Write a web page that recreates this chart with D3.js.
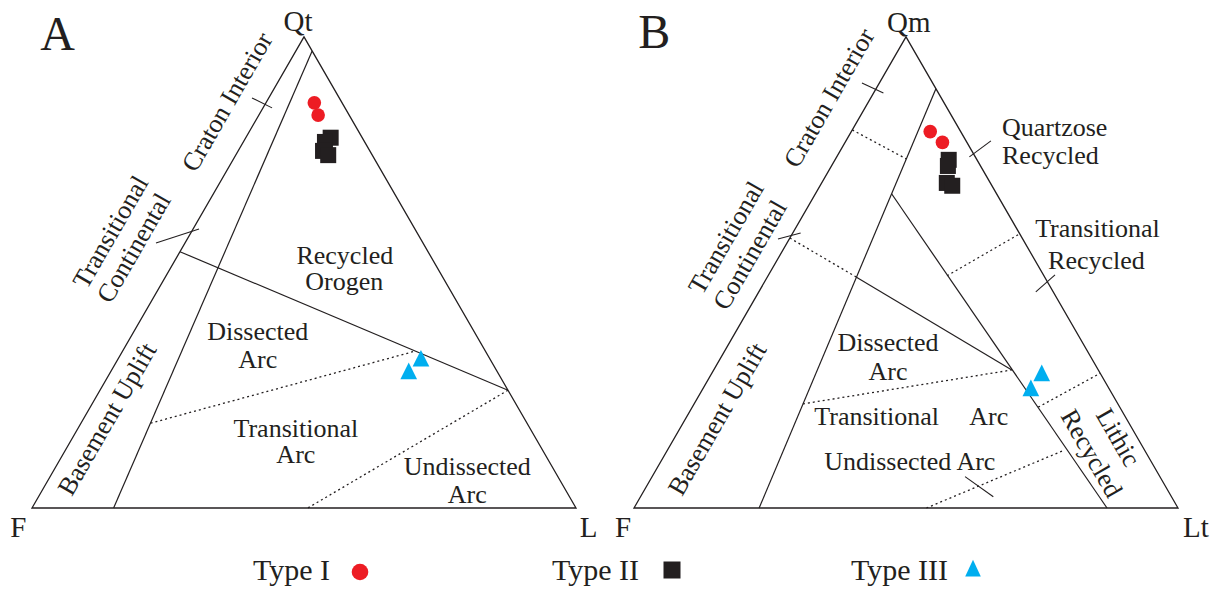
<!DOCTYPE html>
<html>
<head>
<meta charset="utf-8">
<script src="https://cdn.jsdelivr.net/npm/d3@7"></script>
<style>
  body { margin: 0; background: #fff; }
  svg { display: block; }
  text { font-family: "Liberation Serif", "Times New Roman", serif; fill: #231f20; }
</style>
</head>
<body>
<svg id="chart" width="1219" height="591"></svg>
<script>
// Sandstone compositions, percent [Q, F, L]
const typeI_QFL   = [[86.0, 5.1, 8.9], [83.4, 5.7, 10.9]];
const typeII_QFL  = [[78.6, 5.8, 15.6], [77.7, 7.3, 15.0], [75.8, 8.6, 15.6], [74.9, 8.1, 17.0]];
const typeIII_QFL = [[31.2, 12.9, 55.9], [28.5, 16.5, 55.0]];

// Percent [Qm, F, Lt]
const typeI_QmFLt   = [[79.9, 5.6, 14.5], [77.6, 4.5, 17.9]];
const typeII_QmFLt  = [[73.9, 5.2, 20.9], [72.6, 6.0, 21.4], [69.0, 8.0, 23.0], [68.4, 7.3, 24.3]];
const typeIII_QmFLt = [[28.1, 11.0, 60.9], [24.9, 14.6, 60.5]];

// Provenance field boundaries (Dickinson), endpoints as [Q, F, L]
const qflSolid = [
  [[97, 0, 3], [0, 85, 15]],
  [[54.4, 45.6, 0], [25, 0, 75]]
];
const qflDotted = [
  [[18, 69.2, 12.8], [33.3, 12.9, 53.8]],
  [[25, 0, 75], [0, 49.3, 50.7]]
];
const qflTicks = [
  [[87.05, 16.03, -3.08], [84.93, 13.41, 1.66]],
  [[56.26, 49.08, -5.34], [59.24, 39.68, 1.08]]
];

const qmfltSolid = [
  [[89, 0, 11], [0, 77, 23]],
  [[66.7, 19.3, 14.0], [0, 13.05, 86.95]],
  [[49.0, 34.6, 16.4], [29.3, 15.9, 54.8]]
];
const qmfltDotted = [
  [[80.25, 19.75, 0], [74.1, 12.9, 13.0]],
  [[57.3, 42.7, 0], [49.0, 34.6, 16.4]],
  [[49.3, 17.8, 32.9], [58.2, 0, 41.8]],
  [[21.4, 15.0, 63.6], [28.6, 0, 71.4]],
  [[22.1, 57.9, 20.0], [29.3, 15.9, 54.8]],
  [[0, 46.25, 53.75], [12.3, 14.7, 73.0]]
];
const qmfltTicks = [
  [[90.23, 12.98, -3.21], [88.11, 10.10, 1.79]],
  [[57.11, 44.98, -2.09], [58.39, 40.17, 1.44]],
  [[74.52, 1.09, 24.39], [77.92, -4.57, 26.65]],
  [[45.86, 3.21, 50.93], [49.47, -2.13, 52.66]],
  [[6.65, 35.82, 57.53], [2.4, 32.75, 64.85]]
];

const corners = [[0, 100, 0], [0, 0, 100], [100, 0, 0]];

const legendNames = ["Type I", "Type II", "Type III"];

// Field and axis labels, placed in the triangle's unit frame (u across, v up)
const qflLabels = [
  { t: "A", u: 0.047, v: 0.972, size: 48 },
  { t: "Qt", u: 0.489, v: 1.013, size: 29 },
  { t: "F", u: -0.025, v: -0.062, size: 29 },
  { t: "L", u: 1.023, v: -0.062, size: 29 },
  { t: "Recycled", u: 0.575, v: 0.518, size: 26 },
  { t: "Orogen", u: 0.574, v: 0.463, size: 26 },
  { t: "Dissected", u: 0.415, v: 0.357, size: 26 },
  { t: "Arc", u: 0.415, v: 0.297, size: 26 },
  { t: "Transitional", u: 0.485, v: 0.151, size: 26 },
  { t: "Arc", u: 0.485, v: 0.096, size: 26 },
  { t: "Undissected", u: 0.800, v: 0.070, size: 26 },
  { t: "Arc", u: 0.800, v: 0.011, size: 26 },
  { t: "Craton Interior", u: 0.3585, v: 0.862, size: 26, rot: -60 },
  { t: "Transitional", u: 0.1443, v: 0.586, size: 26, rot: -60 },
  { t: "Continental", u: 0.187, v: 0.552, size: 26, rot: -60 },
  { t: "Basement Uplift", u: 0.138, v: 0.189, size: 26, rot: -60 }
];
const qmfltLabels = [
  { t: "B", u: 0.037, v: 0.977, size: 48 },
  { t: "Qm", u: 0.505, v: 1.011, size: 29 },
  { t: "F", u: -0.020, v: -0.062, size: 29 },
  { t: "Lt", u: 1.033, v: -0.062, size: 29 },
  { t: "Quartzose", u: 0.6765, v: 0.790, size: 26, anchor: "start" },
  { t: "Recycled", u: 0.6765, v: 0.730, size: 26, anchor: "start" },
  { t: "Transitional", u: 0.852, v: 0.575, size: 26 },
  { t: "Recycled", u: 0.850, v: 0.507, size: 26 },
  { t: "Dissected", u: 0.467, v: 0.333, size: 26 },
  { t: "Arc", u: 0.467, v: 0.272, size: 26 },
  { t: "Transitional", u: 0.446, v: 0.176, size: 26 },
  { t: "Arc", u: 0.652, v: 0.176, size: 26 },
  { t: "Undissected Arc", u: 0.507, v: 0.081, size: 26 },
  { t: "Craton Interior", u: 0.3585, v: 0.8705, size: 26, rot: -60 },
  { t: "Transitional", u: 0.169, v: 0.574, size: 26, rot: -60 },
  { t: "Continental", u: 0.213, v: 0.537, size: 26, rot: -60 },
  { t: "Basement Uplift", u: 0.153, v: 0.189, size: 26, rot: -60 },
  { t: "Lithic", u: 0.890, v: 0.150, size: 26, rot: 60 },
  { t: "Recycled", u: 0.841, v: 0.116, size: 26, rot: 60 }
];

const INK = "#231f20", RED = "#ed1c24", BLACK = "#231f20", CYAN = "#00aeef";
const SIDE = 544, HEIGHT = SIDE * Math.sqrt(3) / 2, BASE_Y = 508;

const svg = d3.select("#chart");

function trianglePath(w, h) {
  return `M0,${-2 * h / 3}L${w / 2},${h / 3}L${-w / 2},${h / 3}Z`;
}

function drawPanel(x0, solid, dotted, ticks, labels, sI, sII, sIII) {
  const g = svg.append("g");
  const sx = d3.scaleLinear().domain([0, 1]).range([x0, x0 + SIDE]);
  const sy = d3.scaleLinear().domain([0, 1]).range([BASE_Y, BASE_Y - HEIGHT]);
  const px = d => sx((d[2] + d[0] / 2) / 100);
  const py = d => sy(d[0] / 100);
  const line = d3.line().x(px).y(py);

  // outer triangle
  g.append("path")
    .attr("d", line(corners) + "Z")
    .attr("fill", "none").attr("stroke", INK).attr("stroke-width", 1.3)
    .attr("stroke-linejoin", "miter");

  // field boundaries
  g.selectAll(null).data(solid).join("path")
    .attr("d", line).attr("fill", "none")
    .attr("stroke", INK).attr("stroke-width", 1.2);

  g.selectAll(null).data(dotted).join("path")
    .attr("d", line).attr("fill", "none")
    .attr("stroke", INK).attr("stroke-width", 1.3)
    .attr("stroke-dasharray", "2,3");

  g.selectAll(null).data(ticks).join("path")
    .attr("d", line).attr("fill", "none")
    .attr("stroke", INK).attr("stroke-width", 1.1);

  // labels
  g.selectAll(null).data(labels).join("text")
    .attr("transform", d => d.rot
      ? `translate(${sx(d.u)},${sy(d.v)}) rotate(${d.rot})`
      : `translate(${sx(d.u)},${sy(d.v)})`)
    .attr("dy", d => d.rot ? "0.33em" : 0)
    .attr("text-anchor", d => d.anchor || "middle")
    .attr("font-size", d => d.size)
    .text(d => d.t);

  // samples
  g.selectAll(null).data(sII).join("rect")
    .attr("x", d => px(d) - 8).attr("y", d => py(d) - 8)
    .attr("width", 16).attr("height", 16)
    .attr("fill", BLACK);

  g.selectAll(null).data(sI).join("circle")
    .attr("cx", px).attr("cy", py).attr("r", 6.8)
    .attr("fill", RED);

  g.selectAll(null).data(sIII).join("path")
    .attr("transform", d => `translate(${px(d)},${py(d)})`)
    .attr("d", trianglePath(16.7, 16.7))
    .attr("fill", CYAN);
}

drawPanel(32, qflSolid, qflDotted, qflTicks, qflLabels, typeI_QFL, typeII_QFL, typeIII_QFL);
drawPanel(634, qmfltSolid, qmfltDotted, qmfltTicks, qmfltLabels, typeI_QmFLt, typeII_QmFLt, typeIII_QmFLt);

// legend: text start and symbol offset from it
const legendX = d3.scalePoint().domain(legendNames).range([253, 851]);
const symbolOffset = [107, 120, 122];
const leg = svg.append("g");
const items = leg.selectAll(null).data(legendNames).join("g")
  .attr("transform", d => `translate(${legendX(d)},580)`);
items.append("text").attr("font-size", 30).text(d => d);
items.each(function (d, i) {
  const item = d3.select(this);
  const cx = symbolOffset[i];
  if (i === 0) {
    item.append("circle").attr("cx", cx).attr("cy", -8).attr("r", 8.3).attr("fill", RED);
  } else if (i === 1) {
    item.append("rect").attr("x", cx - 8.5).attr("y", -18.5).attr("width", 17).attr("height", 17).attr("fill", BLACK);
  } else {
    item.append("path").attr("transform", `translate(${cx},-9)`).attr("d", trianglePath(15.6, 16.7)).attr("fill", CYAN);
  }
});
</script>
</body>
</html>
